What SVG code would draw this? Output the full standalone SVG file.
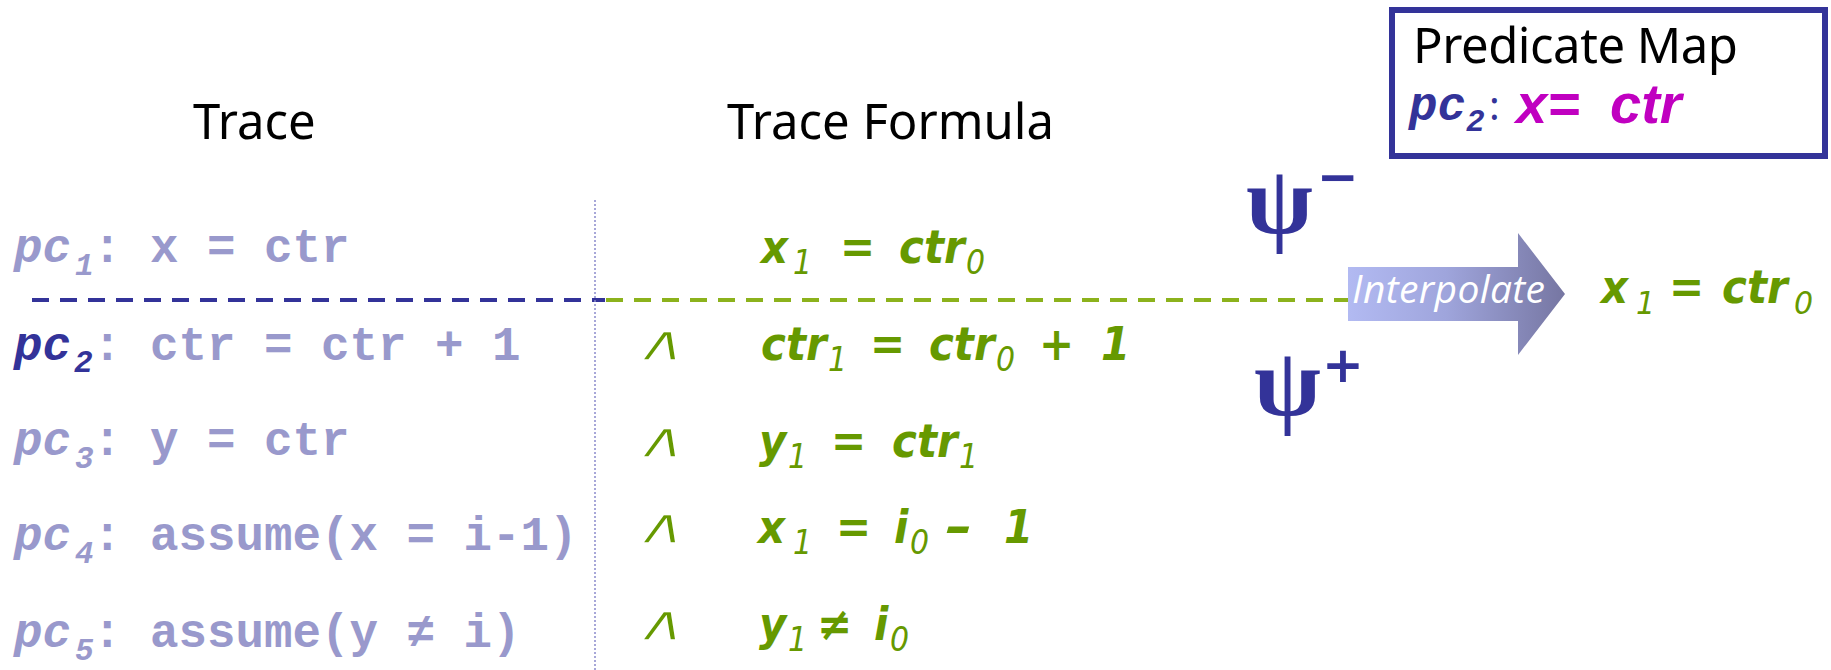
<svg xmlns="http://www.w3.org/2000/svg" width="1831" height="670" viewBox="0 0 1831 670">
  <defs>
    <linearGradient id="arrowGrad" x1="1348" y1="0" x2="1565" y2="0" gradientUnits="userSpaceOnUse">
      <stop offset="0" stop-color="#B2BAF2"/>
      <stop offset="0.45" stop-color="#9FA5DC"/>
      <stop offset="1" stop-color="#7676A2"/>
    </linearGradient>
  </defs>
  <style>
    .head { font-family: "Noto Sans", "Open Sans", sans-serif; font-size: 49px; fill: #000; }
    .mono { font-family: "Liberation Mono", "Courier New", monospace; font-weight: bold; font-size: 47.5px; fill: #9999CC; white-space: pre; }
    .pc { font-style: italic; }
    .msub { font-size: 31px; font-style: italic; font-weight: bold; }
    .dark { fill: #333399; }
    .f { font-family: "DejaVu Sans", Verdana, sans-serif; font-weight: bold; font-style: italic; font-size: 42px; fill: #669900; }
    .fsub { font-size: 30px; font-weight: normal; }
    .wedge { font-family: "DejaVu Sans", sans-serif; font-size: 60px; fill: #669900; stroke: #fff; stroke-width: 2px; }
    .psi { font-family: "Liberation Serif", "DejaVu Serif", serif; font-weight: bold; font-size: 97px; fill: #333399; }
    .sup { font-family: "DejaVu Sans", sans-serif; font-weight: bold; font-size: 50px; fill: #333399; }
    .dash { fill: none; stroke-width: 4; stroke-dasharray: 17 11; }
  </style>

  <g id="connectors">
    <line class="dash" x1="32" y1="300" x2="605" y2="300" stroke="#333399"/>
    <line class="dash" x1="606" y1="300" x2="1348" y2="300" stroke="#8CB21C"/>
    <line x1="595" y1="200" x2="595" y2="670" stroke="#8A8ACC" stroke-width="1.5" stroke-dasharray="2 2"/>
  </g>

  <g id="trace-header">
    <text class="head" x="193" y="139">Trace</text>
  </g>
  <g id="formula-header">
    <text class="head" x="727" y="139">Trace Formula</text>
  </g>

  <g id="predicate-map">
    <rect x="1392" y="10" width="433" height="146" fill="#fff" stroke="#333399" stroke-width="6"/>
    <text class="head" x="1413" y="63" font-size="48" textLength="325">Predicate Map</text>
    <text class="mono dark" y="120"><tspan class="pc" x="1409">pc</tspan><tspan class="msub" x="1466" y="131">2</tspan></text>
    <text x="1489" y="120" font-family="Noto Sans, sans-serif" font-size="40" fill="#333399">:</text>
    <text y="123" font-family="Liberation Sans, Arial, sans-serif" font-weight="bold" font-style="italic" font-size="56" fill="#C000C0"><tspan x="1516">x=</tspan><tspan x="1610">ctr</tspan></text>
  </g>

  <g id="trace-rows">
    <g id="trace-pc1">
      <text class="mono" y="262"><tspan class="pc" x="14">pc</tspan><tspan class="msub" x="75" y="275">1</tspan><tspan x="93" y="262">: x = ctr</tspan></text>
    </g>
    <g id="trace-pc2">
      <text class="mono" y="360"><tspan class="pc dark" x="14">pc</tspan><tspan class="msub dark" x="74" y="372">2</tspan><tspan x="93" y="360">: ctr = ctr + 1</tspan></text>
    </g>
    <g id="trace-pc3">
      <text class="mono" y="455"><tspan class="pc" x="14">pc</tspan><tspan class="msub" x="75" y="468">3</tspan><tspan x="93" y="455">: y = ctr</tspan></text>
    </g>
    <g id="trace-pc4">
      <text class="mono" y="550"><tspan class="pc" x="14">pc</tspan><tspan class="msub" x="75" y="563">4</tspan><tspan x="93" y="550">: assume(x = i-1)</tspan></text>
    </g>
    <g id="trace-pc5">
      <text class="mono" y="647"><tspan class="pc" x="14">pc</tspan><tspan class="msub" x="75" y="660">5</tspan><tspan x="93" y="647">: assume(y ≠ i)</tspan></text>
    </g>
  </g>

  <g id="formula-rows">
    <g id="formula-1">
      <text class="f" transform="translate(0,263) scale(1,1.1)"><tspan x="761" y="0">x</tspan><tspan class="fsub" x="793" y="10">1</tspan><tspan x="840" y="0">=</tspan><tspan x="899" y="0">ctr</tspan><tspan class="fsub" x="966" y="10">0</tspan></text>
    </g>
    <g id="formula-2">
      <text class="wedge" transform="translate(633,360) skewX(-16) scale(1.2,0.82)">∧</text>
      <text class="f" transform="translate(0,360) scale(1,1.1)"><tspan x="761" y="0">ctr</tspan><tspan class="fsub" x="828" y="10">1</tspan><tspan x="870" y="0">=</tspan><tspan x="929" y="0">ctr</tspan><tspan class="fsub" x="996" y="10">0</tspan><tspan x="1039" y="0">+</tspan><tspan x="1101" y="0">1</tspan></text>
    </g>
    <g id="formula-3">
      <text class="wedge" transform="translate(633,457) skewX(-16) scale(1.2,0.82)">∧</text>
      <text class="f" transform="translate(0,457) scale(1,1.1)"><tspan x="759" y="0">y</tspan><tspan class="fsub" x="788" y="10">1</tspan><tspan x="831" y="0">=</tspan><tspan x="892" y="0">ctr</tspan><tspan class="fsub" x="959" y="10">1</tspan></text>
    </g>
    <g id="formula-4">
      <text class="wedge" transform="translate(633,543) skewX(-16) scale(1.2,0.82)">∧</text>
      <text class="f" transform="translate(0,543) scale(1,1.1)"><tspan x="758" y="0">x</tspan><tspan class="fsub" x="793" y="10">1</tspan><tspan x="836" y="0">=</tspan><tspan x="894" y="0">i</tspan><tspan class="fsub" x="910" y="10">0</tspan><tspan x="1004" y="0">1</tspan></text>
      <text class="f" transform="translate(945,543) scale(1.6,1.1)">-</text>
    </g>
    <g id="formula-5">
      <text class="wedge" transform="translate(633,640) skewX(-16) scale(1.2,0.82)">∧</text>
      <text class="f" transform="translate(0,640) scale(1,1.1)"><tspan x="759" y="0">y</tspan><tspan class="fsub" x="788" y="10">1</tspan><tspan x="817" y="0">≠</tspan><tspan x="874" y="0">i</tspan><tspan class="fsub" x="890" y="10">0</tspan></text>
    </g>
  </g>

  <g id="psi-minus">
    <text class="psi" x="1246" y="233">ψ</text>
    <text class="sup" x="1317" y="194">−</text>
  </g>
  <g id="psi-plus">
    <text class="psi" x="1254" y="415">ψ</text>
    <text class="sup" x="1322" y="382">+</text>
  </g>

  <g id="interpolate-arrow">
    <polygon points="1348,267 1518,267 1518,233 1565,294 1518,355 1518,321 1348,321" fill="url(#arrowGrad)"/>
    <text x="1352" y="303" font-family="Open Sans, Noto Sans, sans-serif" font-style="italic" font-size="39" fill="#fff" textLength="193">Interpolate</text>
  </g>

  <g id="interpolant">
    <text class="f" font-size="45" transform="translate(0,303) scale(1,1.08)"><tspan x="1601" y="0">x</tspan><tspan class="fsub" x="1636" y="10">1</tspan><tspan x="1669" y="0">=</tspan><tspan x="1722" y="0">ctr</tspan><tspan class="fsub" x="1794" y="10">0</tspan></text>
  </g>
</svg>
